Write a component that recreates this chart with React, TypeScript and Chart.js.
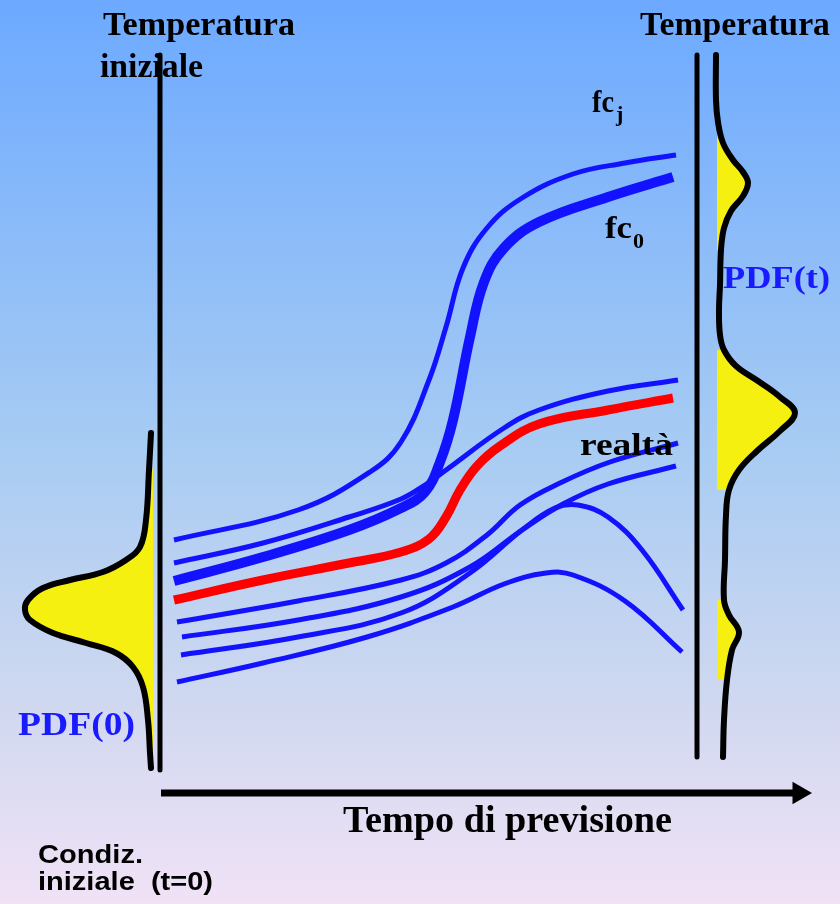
import React, { useEffect, useRef } from 'react';
import { Chart, registerables } from 'chart.js';

Chart.register(...registerables);

type P = [number, number];

// Forecast ensemble members (x = forecast time position, y = temperature position)
const memberUpper: P[] = [[174, 540], [298, 510], [370, 472], [401, 442], [429, 380], [446, 327], [463, 268], [487, 228], [522, 198], [573, 174], [625, 163], [676, 155]];
const controlFc0: P[] = [[174, 581], [263, 557], [349, 530], [401, 508], [425, 492], [440, 462], [453, 420], [470, 337], [484, 282], [504, 248], [539, 222], [608, 197], [673, 177]];
const memberCross: P[] = [[174, 563], [263, 543], [349, 517], [401, 499], [425, 485], [446, 470], [504, 428], [539, 410], [608, 391], [678, 380]];
const reality: P[] = [[174, 600], [263, 580], [349, 563], [401, 552], [429, 539], [446, 517], [460, 490], [477, 466], [500, 446], [539, 424], [608, 410], [673, 398]];
const memberC: P[] = [[177, 622], [298, 601], [401, 580], [446, 563], [487, 535], [520, 505], [560, 483], [610, 462], [678, 443]];
const memberD: P[] = [[182, 637], [298, 620], [401, 597], [470, 567], [522, 530], [563, 504], [608, 484], [676, 466]];
const memberE: P[] = [[181, 655], [298, 637], [401, 613], [470, 573], [522, 530], [555, 508], [578, 505], [608, 517], [642, 550], [683, 610]];
const memberF: P[] = [[177, 682], [263, 663], [367, 637], [453, 607], [504, 584], [546, 573], [573, 575], [625, 601], [682, 652]];

// PDFs
const pdf0Outline: P[] = [[151, 433], [149, 470], [146, 520], [140, 547], [126, 560], [103, 572], [70, 580], [43, 588], [28, 600], [25, 610], [30, 620], [53, 633], [86, 643], [116, 653], [133, 667], [143, 687], [148, 720], [150, 753], [151, 768]];
const pdfTOutline: P[] = [[716, 55], [716, 100], [718, 122], [723, 143], [733, 160], [743, 172], [748, 183], [743, 196], [731, 211], [724, 228], [721, 250], [720, 285], [719, 310], [720, 335], [724, 350], [736, 366], [758, 381], [780, 397], [795, 413], [780, 431], [757, 451], [739, 470], [729, 490], [726, 515], [725, 560], [724, 600], [729, 615], [739, 632], [732, 650], [727, 680], [724, 720], [723, 757]];
const pdf0FillRange: P = [470, 753];
const pdfTFillRanges: P[] = [[122, 250], [345, 510], [600, 690]];

// Axes
const axisInitial: P[] = [[160, 55], [160, 770]];
const axisFinal: P[] = [[697, 55], [697, 757]];
const timeAxis: P[] = [[161, 793], [800, 793]];
const timeArrowHead: P[] = [[799, 793]];

const BLUE = '#1212ff';
const RED = '#ff0000';
const YELLOW = '#f5f010';

const xy = (pts: P[]) => pts.map(([x, y]) => ({ x, y }));
const sub = (pts: P[], r: P) => pts.filter(([, y]) => y >= r[0] && y <= r[1]);

const line = (pts: P[], color: string, width: number, extra: any = {}) => ({
  data: xy(pts),
  borderColor: color,
  borderWidth: width,
  pointRadius: 0,
  tension: 0.4,
  fill: false,
  borderCapStyle: 'butt',
  borderJoinStyle: 'round',
  ...extra,
});

const fillSet = (pts: P[], boundary: number) => ({
  data: xy(pts),
  indexAxis: 'y',
  borderWidth: 0,
  borderColor: 'rgba(0,0,0,0)',
  backgroundColor: YELLOW,
  pointRadius: 0,
  tension: 0.4,
  fill: { target: { value: boundary } },
});

function drawText(ctx: CanvasRenderingContext2D, s: string, x: number, y: number, size: number, family: string, color: string, width?: number) {
  ctx.save();
  ctx.font = `bold ${size}px ${family}`;
  ctx.fillStyle = color;
  ctx.textAlign = 'left';
  ctx.textBaseline = 'alphabetic';
  const m = ctx.measureText(s).width;
  const sx = width ? width / m : 1;
  ctx.translate(x, y);
  ctx.scale(sx, 1);
  ctx.fillText(s, 0, 0);
  ctx.restore();
}

const SERIF = '"Liberation Serif", "Times New Roman", serif';
const SANS = '"Liberation Sans", Arial, sans-serif';

const backgroundPlugin = {
  id: 'bg',
  beforeDraw(chart: any) {
    const { ctx, width, height } = chart;
    ctx.save();
    const g = ctx.createLinearGradient(0, 0, 0, height);
    g.addColorStop(0, 'rgb(108,169,255)');
    g.addColorStop(0.5, 'rgb(168,204,243)');
    g.addColorStop(0.78, 'rgb(208,216,240)');
    g.addColorStop(1, 'rgb(241,226,246)');
    ctx.fillStyle = g;
    ctx.fillRect(0, 0, width, height);
    ctx.restore();
  },
};

const textPlugin = {
  id: 'texts',
  afterDraw(chart: any) {
    const ctx = chart.ctx as CanvasRenderingContext2D;
    drawText(ctx, 'Temperatura', 103, 35, 33, SERIF, '#000', 192);
    drawText(ctx, 'iniziale', 100, 77, 33, SERIF, '#000', 103);
    drawText(ctx, 'Temperatura', 640, 35, 33, SERIF, '#000', 190);
    drawText(ctx, 'fc', 592, 112, 32, SERIF, '#000', 22);
    drawText(ctx, 'j', 616, 121, 22, SERIF, '#000');
    drawText(ctx, 'fc', 605, 238, 32, SERIF, '#000', 27);
    drawText(ctx, '0', 633, 248, 22, SERIF, '#000');
    drawText(ctx, 'realtà', 580, 455, 32, SERIF, '#000', 93);
    drawText(ctx, 'PDF(0)', 18, 735, 34, SERIF, '#1a1aff', 117);
    drawText(ctx, 'PDF(t)', 723, 288, 32, SERIF, '#1a1aff', 107);
    drawText(ctx, 'Tempo di previsione', 343, 832, 37, SERIF, '#000', 329);
    drawText(ctx, 'Condiz.', 38, 863, 25, SANS, '#000', 105);
    drawText(ctx, 'iniziale  (t=0)', 38, 890, 25, SANS, '#000', 175);
  },
};

export default function App() {
  const ref = useRef<HTMLCanvasElement | null>(null);

  useEffect(() => {
    if (!ref.current) return;
    const datasets: any[] = [
      line(reality, RED, 9),
      line(controlFc0, BLUE, 10),
      line(memberUpper, BLUE, 5),
      line(memberCross, BLUE, 5),
      line(memberC, BLUE, 5),
      line(memberD, BLUE, 5),
      line(memberE, BLUE, 5),
      line(memberF, BLUE, 5),
      line(pdf0Outline, '#000', 6, { borderCapStyle: 'round' }),
      line(pdfTOutline, '#000', 6, { borderCapStyle: 'round' }),
      line(axisInitial, '#000', 5, { tension: 0 }),
      line(axisFinal, '#000', 5, { tension: 0 }),
      line(timeAxis, '#000', 7, { tension: 0 }),
      {
        data: xy(timeArrowHead),
        showLine: false,
        pointStyle: 'triangle',
        pointRotation: 90,
        pointRadius: 13,
        pointBackgroundColor: '#000',
        pointBorderColor: '#000',
        pointBorderWidth: 0,
      },
      fillSet(sub(pdf0Outline, pdf0FillRange), 153),
      ...pdfTFillRanges.map((r) => fillSet(sub(pdfTOutline, r), 717)),
    ];

    const chart = new Chart(ref.current, {
      type: 'line',
      data: { datasets },
      options: {
        animation: false,
        responsive: false,
        maintainAspectRatio: false,
        devicePixelRatio: 1,
        events: [],
        layout: { padding: 0, autoPadding: false },
        plugins: { legend: { display: false }, tooltip: { enabled: false } },
        scales: {
          x: { type: 'linear', min: 0, max: 840, display: false },
          y: { type: 'linear', min: 0, max: 904, reverse: true, display: false },
        },
      },
      plugins: [backgroundPlugin, textPlugin],
    } as any);
    return () => chart.destroy();
  }, []);

  return (
    <div style={{ position: 'absolute', left: 0, top: 0, width: 840, height: 904 }}>
      <canvas ref={ref} width={840} height={904} style={{ display: 'block', width: 840, height: 904 }} />
    </div>
  );
}
